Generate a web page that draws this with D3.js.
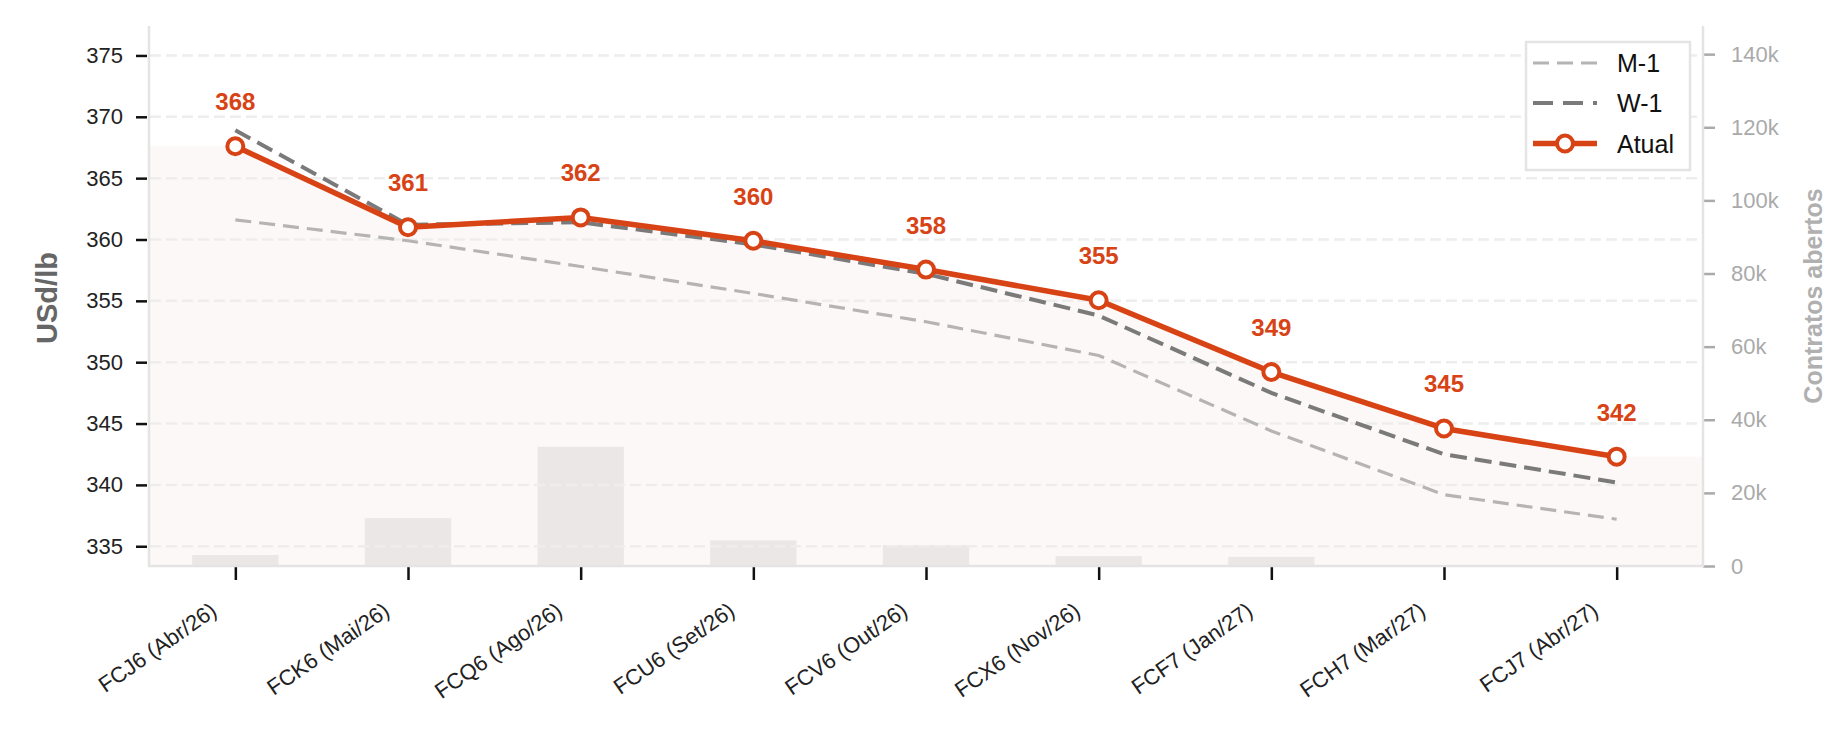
<!DOCTYPE html>
<html>
  <head>
    <meta charset="utf-8">
    <title>Curva FC</title>
    <script src="https://cdn.jsdelivr.net/npm/d3@7"></script>
    <style>
      body { margin: 0; background: #fff; }
      text { font-family: "Liberation Sans", Arial, sans-serif; }
    </style>
  </head>
  <body>
    <script>
      // contratos e valores
      var categories = ["FCJ6 (Abr/26)", "FCK6 (Mai/26)", "FCQ6 (Ago/26)", "FCU6 (Set/26)", "FCV6 (Out/26)",
                        "FCX6 (Nov/26)", "FCF7 (Jan/27)", "FCH7 (Mar/27)", "FCJ7 (Abr/27)"];
      var atual = [367.6, 361.0, 361.8, 359.9, 357.55, 355.05, 349.2, 344.6, 342.3];
      var w1 = [368.9, 361.2, 361.4, 359.6, 357.2, 353.8, 347.5, 342.5, 340.2];
      var m1 = [361.6, 359.9, 357.8, 355.6, 353.3, 350.55, 344.4, 339.2, 337.2];
      var openInterest = [3000, 13100, 32600, 7000, 5700, 2700, 2500, 0, 0];
      var leftTicks = [335, 340, 345, 350, 355, 360, 365, 370, 375];
      var rightTicks = [0, 20000, 40000, 60000, 80000, 100000, 120000, 140000];

      var orange = "#d84315";

      var svg = d3.select("body").append("svg")
                  .attr("width", 1846)
                  .attr("height", 734);

      var x = d3.scaleLinear().domain([-0.5, 8.5]).range([149, 1703]);
      var y = d3.scaleLinear().domain([333.39, 377.4]).range([566, 26]);
      var y2 = d3.scaleLinear().domain([0, 147700]).range([566, 26]);

      // area clara sob a curva atual, estendida ate as bordas
      var fillPts = [[-0.5, atual[0]]].concat(atual.map(function(d, i){ return [i, d]; }))
                    .concat([[8.5, atual[8]]]);
      svg.append("path")
         .datum(fillPts)
         .attr("fill", "#fcf8f7")
         .attr("d", d3.area().x(function(d){ return x(d[0]); })
                             .y0(566).y1(function(d){ return y(d[1]); }));

      // barras de contratos abertos (eixo direito)
      svg.selectAll("rect.oi").data(openInterest).enter().append("rect")
         .attr("class", "oi")
         .attr("x", function(d, i){ return x(i - 0.25); })
         .attr("width", x(0.25) - x(-0.25))
         .attr("y", function(d){ return y2(d); })
         .attr("height", function(d){ return 566 - y2(d); })
         .attr("fill", "#ebe7e6");

      // grade
      svg.selectAll("line.grid").data(leftTicks).enter().append("line")
         .attr("x1", 150).attr("x2", 1702)
         .attr("y1", function(d){ return y(d); })
         .attr("y2", function(d){ return y(d); })
         .attr("stroke", "#ededed")
         .attr("stroke-width", 2.5)
         .attr("stroke-dasharray", "11,5");

      // eixos
      var leftAxis = svg.append("g").attr("transform", "translate(149,0)")
         .call(d3.axisLeft(y).tickValues(leftTicks).tickSize(12).tickPadding(14));
      leftAxis.select(".domain").remove();
      leftAxis.selectAll(".tick line").attr("stroke", "#111").attr("stroke-width", 2.5).attr("x2", -13).attr("x1", -2);
      leftAxis.selectAll(".tick text").attr("fill", "#222").style("font-size", "22px")
              .style("font-family", "'Liberation Sans', Arial, sans-serif");

      var rightAxis = svg.append("g").attr("transform", "translate(1703,0)")
         .call(d3.axisRight(y2).tickValues(rightTicks).tickSize(12).tickPadding(16)
                 .tickFormat(function(d){ return d === 0 ? "0" : (d / 1000) + "k"; }));
      rightAxis.select(".domain").remove();
      rightAxis.selectAll(".tick line").attr("stroke", "#aaa").attr("stroke-width", 2.5);
      rightAxis.selectAll(".tick text").attr("fill", "#aaa").style("font-size", "22px")
               .style("font-family", "'Liberation Sans', Arial, sans-serif");

      var xAxis = svg.append("g").attr("transform", "translate(0,567)")
         .call(d3.axisBottom(x).tickValues(d3.range(9)).tickSize(13).tickFormat(""));
      xAxis.select(".domain").remove();
      xAxis.selectAll(".tick line").attr("stroke", "#111").attr("stroke-width", 2.5);

      svg.selectAll("text.xlab").data(categories).enter().append("text")
         .attr("class", "xlab")
         .attr("transform", function(d, i){ return "translate(" + (x(i) - 17) + ",614) rotate(-35)"; })
         .attr("text-anchor", "end")
         .attr("fill", "#222")
         .style("font-size", "22px")
         .text(function(d){ return d; });

      // molduras
      svg.append("line").attr("x1", 149).attr("x2", 149).attr("y1", 26).attr("y2", 567)
         .attr("stroke", "#e4e4e4").attr("stroke-width", 2.5);
      svg.append("line").attr("x1", 1703).attr("x2", 1703).attr("y1", 26).attr("y2", 567)
         .attr("stroke", "#e4e4e4").attr("stroke-width", 2.5);
      svg.append("line").attr("x1", 148).attr("x2", 1704).attr("y1", 566).attr("y2", 566)
         .attr("stroke", "#e4e4e4").attr("stroke-width", 2.5);

      // titulos dos eixos
      svg.append("text")
         .attr("transform", "translate(57,298) rotate(-90)")
         .attr("text-anchor", "middle")
         .attr("fill", "#666")
         .style("font-size", "29px").style("font-weight", "bold")
         .text("USd/lb");
      svg.append("text")
         .attr("transform", "translate(1822,296) rotate(-90)")
         .attr("text-anchor", "middle")
         .attr("fill", "#b0b0b0")
         .style("font-size", "25px").style("font-weight", "bold")
         .text("Contratos abertos");

      // curvas
      var line = d3.line().x(function(d, i){ return x(i); }).y(function(d){ return y(d); });

      svg.append("path").datum(m1).attr("d", line)
         .attr("fill", "none").attr("stroke", "#b6b4b3").attr("stroke-width", 3.2)
         .attr("stroke-dasharray", "16,8");
      svg.append("path").datum(w1).attr("d", line)
         .attr("fill", "none").attr("stroke", "#7a7a7a").attr("stroke-width", 4)
         .attr("stroke-dasharray", "17,8");
      svg.append("path").datum(atual).attr("d", line)
         .attr("fill", "none").attr("stroke", orange).attr("stroke-width", 5.5)
         .attr("stroke-linejoin", "round");

      svg.selectAll("circle.pt").data(atual).enter().append("circle")
         .attr("class", "pt")
         .attr("cx", function(d, i){ return x(i); })
         .attr("cy", function(d){ return y(d); })
         .attr("r", 8)
         .attr("fill", "#fff")
         .attr("stroke", orange)
         .attr("stroke-width", 4);

      svg.selectAll("text.val").data(atual).enter().append("text")
         .attr("class", "val")
         .attr("x", function(d, i){ return x(i); })
         .attr("y", function(d){ return y(d) - 36; })
         .attr("text-anchor", "middle")
         .attr("fill", orange)
         .style("font-size", "24px").style("font-weight", "bold")
         .text(function(d){ return Math.round(d); });

      // legenda
      var legend = svg.append("g");
      legend.append("rect")
            .attr("x", 1526).attr("y", 42).attr("width", 164).attr("height", 128)
            .attr("fill", "#fff").attr("stroke", "#e4e4e4").attr("stroke-width", 2.5);
      var items = [
        {name: "M-1", color: "#b6b4b3", w: 3.2, dash: "16,8", y: 63},
        {name: "W-1", color: "#7a7a7a", w: 4, dash: "20,10", y: 103},
        {name: "Atual", color: orange, w: 5.5, dash: null, y: 143.5}
      ];
      items.forEach(function(it){
        legend.append("line")
              .attr("x1", 1533).attr("x2", 1597).attr("y1", it.y).attr("y2", it.y)
              .attr("stroke", it.color).attr("stroke-width", it.w)
              .attr("stroke-dasharray", it.dash);
        if (it.name === "Atual") {
          legend.append("circle").attr("cx", 1565).attr("cy", it.y).attr("r", 8)
                .attr("fill", "#fff").attr("stroke", orange).attr("stroke-width", 4);
        }
        legend.append("text")
              .attr("x", 1617).attr("y", it.y + 9)
              .attr("fill", "#111")
              .style("font-size", "25px")
              .text(it.name);
      });
    </script>
  </body>
</html>
